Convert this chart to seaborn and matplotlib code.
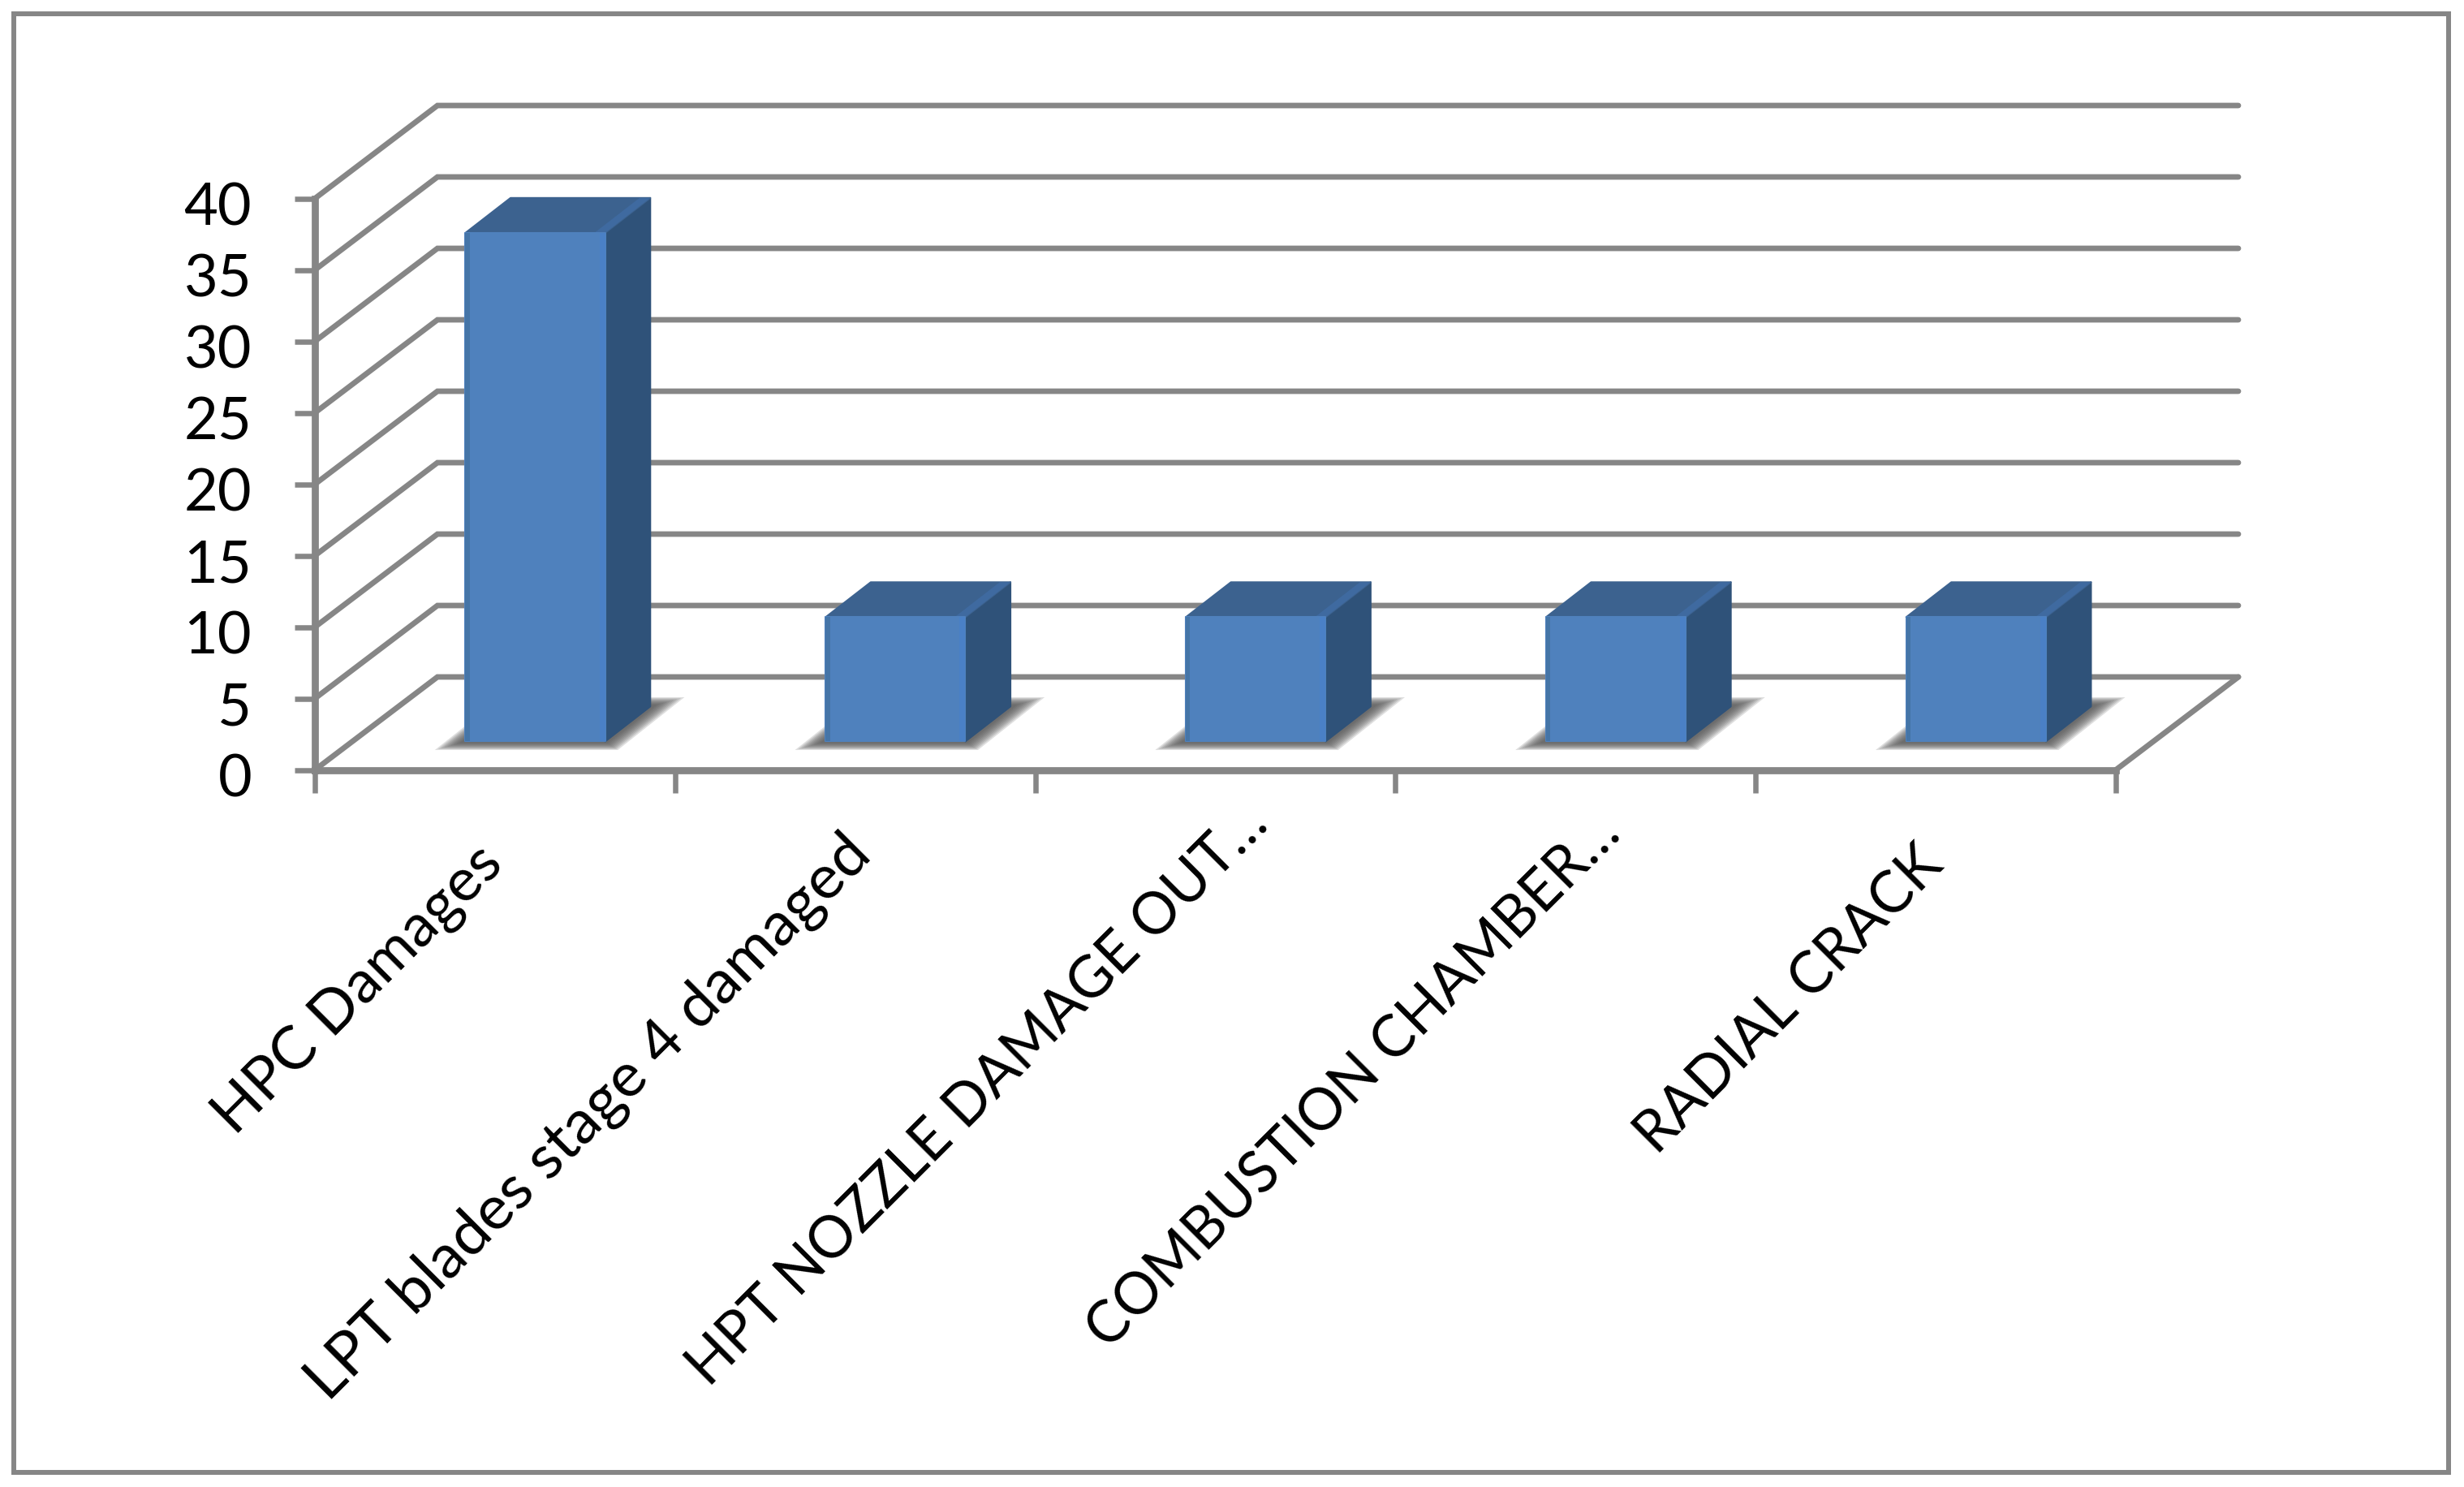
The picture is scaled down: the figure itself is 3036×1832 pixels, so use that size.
import matplotlib
matplotlib.use('Agg')
import matplotlib.pyplot as plt
from matplotlib.patches import Polygon, Rectangle
from matplotlib.transforms import ScaledTranslation
import pandas as pd
import seaborn as sb

# values
categories = ['HPC Damages', 'LPT blades stage 4 damaged', 'HPT NOZZLE DAMAGE OUT…',
              'COMBUSTION CHAMBER…', 'RADIAL CRACK']
counts = [35.6, 8.7, 8.7, 8.7, 8.7]
y_ticks = [0, 5, 10, 15, 20, 25, 30, 35, 40]

W, H = 3036, 1833
GREY = '#868686'
FRONT = '#4f81bd'
SIDE = '#2f5279'
TOP = '#3c628f'

sb.set_theme(style='white')
plt.rcParams['font.family'] = ['Lato', 'DejaVu Sans']

fig = plt.figure(figsize=(W / 100, H / 100), dpi=100, facecolor='white')
ax = fig.add_axes([388 / W, 1 - 949.5 / H, 2219 / W, 704 / H])
ax.patch.set_alpha(0)

df = pd.DataFrame({'cat': categories, 'n': counts})
sb.barplot(data=df, x='cat', y='n', color=FRONT, saturation=1, width=0.388, ax=ax, zorder=5)
ax.set_xlim(-0.5, 4.5)
ax.set_ylim(0, 40)
ax.set_xlabel('')
ax.set_ylabel('')

# depth of the fake 3d box, in data units
dx = 151 / (2219 / 5)
dy = 114.5 / (704 / 40)

# walls
for v in y_ticks:
    ax.plot([-0.5, -0.5 + dx, 4.5 + dx], [v, v + dy, v + dy], color=GREY, lw=4.9,
            clip_on=False, zorder=1, solid_joinstyle='miter')
ax.plot([4.5, 4.5 + dx], [0, dy], color=GREY, lw=4.9, clip_on=False, zorder=1)

# bars sit part way into the floor
off_x = dx * 0.329
off_y = dy * 0.306
bar_dx = dx * 0.368
bar_dy = dy * 0.376

for p in ax.patches:
    x0 = p.get_x() + off_x
    w = p.get_width()
    h = p.get_height()
    p.set_x(x0)
    p.set_y(off_y)
    p.set_edgecolor(FRONT)
    p.set_linewidth(1.5)
    p.set_joinstyle('round')
    p.set_clip_on(False)
    x1 = x0 + w
    top = off_y + h

    # soft shadow on the floor, stacked from the outer edge in to the bar foot
    foot = [(x0, off_y), (x1, off_y), (x1 + bar_dx, off_y + bar_dy), (x0 + bar_dx, off_y + bar_dy)]
    outer = [(x0 - 0.085, off_y - 0.6), (x1 + 0.035, off_y - 0.6),
             (x1 + bar_dx + 0.095, off_y + bar_dy + 0.65), (x0 + 0.1, off_y + bar_dy + 0.65)]
    for t in [1, 0.9, 0.8, 0.7, 0.6, 0.5, 0.4, 0.3, 0.2]:
        shape = [(a[0] + (b[0] - a[0]) * t, a[1] + (b[1] - a[1]) * t) for a, b in zip(foot, outer)]
        ax.add_patch(Polygon(shape, closed=True, facecolor='#555555', lw=0,
                             alpha=0.19, clip_on=False, zorder=2))

    ax.add_patch(Polygon([(x1, off_y), (x1 + bar_dx, off_y + bar_dy), (x1 + bar_dx, top + bar_dy), (x1, top)],
                         closed=True, facecolor=SIDE, edgecolor=SIDE, lw=1.5, clip_on=False,
                         zorder=4, joinstyle='round'))
    ax.add_patch(Polygon([(x0, top), (x1, top), (x1 + bar_dx, top + bar_dy), (x0 + bar_dx, top + bar_dy)],
                         closed=True, facecolor=TOP, edgecolor=TOP, lw=1.5, clip_on=False,
                         zorder=4, joinstyle='round'))
    # lighter corner of the top, darker left edge and lighter right edge of the front
    ax.add_patch(Polygon([(x1 - 0.03, top), (x1, top), (x1 + bar_dx, top + bar_dy), (x1 + bar_dx - 0.03, top + bar_dy)],
                         closed=True, facecolor='#3f6aa0', lw=0, clip_on=False, zorder=4.5))
    ax.add_patch(Rectangle((x0, off_y), 0.012, h, facecolor='#42709f', lw=0, alpha=0.7, clip_on=False, zorder=6))
    ax.add_patch(Rectangle((x1 - 0.016, off_y), 0.016, h, facecolor='#4a80c6', lw=0, clip_on=False, zorder=6))

# axes and ticks
sb.despine(ax=ax, top=True, right=True)
for s in ['left', 'bottom']:
    ax.spines[s].set_color(GREY)
    ax.spines[s].set_linewidth(6.3)
    ax.spines[s].set_zorder(3)

ax.set_yticks(y_ticks)
ax.tick_params(axis='y', length=18, width=4.7, color=GREY, pad=38, labelsize=52, labelcolor='black', left=True)
for lab in ax.get_yticklabels():
    lab.set_transform(lab.get_transform() + ScaledTranslation(0, -6 / 100, fig.dpi_scale_trans))

ax.set_xticks(range(len(categories)), categories, rotation=45, ha='right', rotation_mode='anchor')
ax.set_xticks([i - 0.5 for i in range(len(categories) + 1)], minor=True)
ax.tick_params(axis='x', which='major', length=0, pad=62, labelcolor='black')
ax.tick_params(axis='x', which='minor', length=20, width=4.7, color=GREY, bottom=True)

# the labels do not all end right under the slot centre, lowercase runs wider than in lato
nudge_x = [-25, -17, 31, 21, -25]
nudge_y = [6, 19, 54, 43, 4]
sizes = [53.5, 55, 51, 51, 51]
for lab, nx, ny, fs in zip(ax.get_xticklabels(), nudge_x, nudge_y, sizes):
    lab.set_fontsize(fs)
    lab.set_transform(lab.get_transform() + ScaledTranslation(nx / 100, ny / 100, fig.dpi_scale_trans))

# outer frame
fig.add_artist(Rectangle((17 / W, 1 - 1815 / H), (3017 - 17) / W, (1815 - 18) / H, transform=fig.transFigure,
                         fill=False, edgecolor=GREY, lw=4.3))

fig.savefig('out.png', dpi=100)
